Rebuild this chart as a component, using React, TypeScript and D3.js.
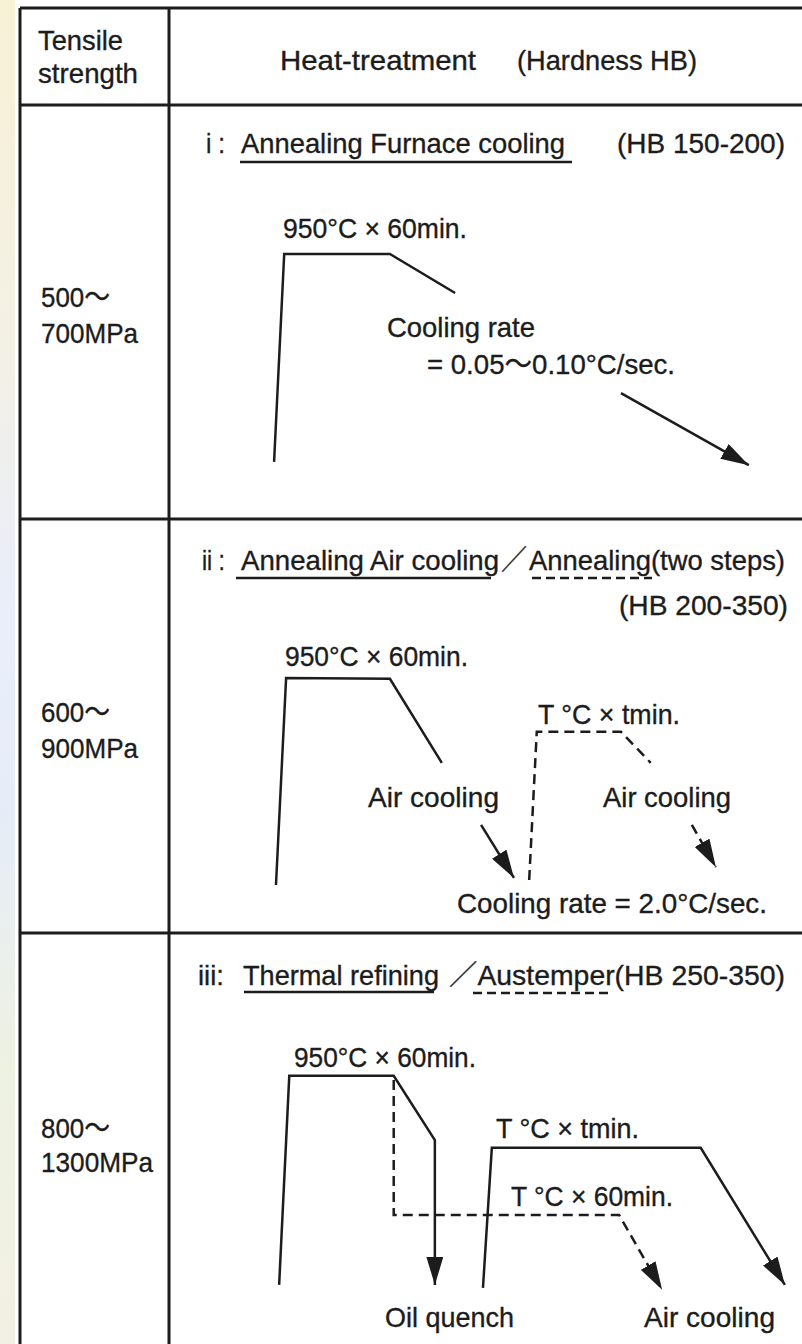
import React from "react";
import * as d3 from "d3";

const W = 802;
const H = 1344;

// ---- text content ----
const headerLeft = ["Tensile", "strength"];
const headerRight = ["Heat-treatment", "(Hardness HB)"];
const strengthLow = ["500～", "600～", "800～"];
const strengthHigh = ["700MPa", "900MPa", "1300MPa"];
const numerals = ["i :", "ii :", "iii:"];
const hardness = ["(HB 150-200)", "(HB 200-350)", "(HB 250-350)"];
const titleSolid = ["Annealing Furnace cooling", "Annealing Air cooling", "Thermal refining"];
const titleDashed = ["", "Annealing(two steps)", "Austemper"];
const panel1Labels = ["950°C × 60min.", "Cooling rate", "= 0.05～0.10°C/sec."];
const panel2Labels = ["950°C × 60min.", "T °C × tmin.", "Air cooling", "Air cooling", "Cooling rate = 2.0°C/sec."];
const panel3Labels = ["950°C × 60min.", "T °C × tmin.", "T °C × 60min.", "Oil quench", "Air cooling"];

// ---- schematic time / temperature profiles (time %, temperature % of panel) ----
type Profile = { dashed: boolean; arrow: boolean; pts: [number, number][] };
const profiles1: Profile[] = [
  { dashed: false, arrow: false, pts: [[16.6, 13.8], [18.2, 64.0], [34.9, 64.0], [45.2, 54.6]] },
  { dashed: false, arrow: true, pts: [[71.4, 30.4], [91.6, 13.0]] },
];
const profiles2: Profile[] = [
  { dashed: false, arrow: false, pts: [[16.9, 11.6], [18.5, 61.6], [34.9, 61.4], [43.1, 41.1]] },
  { dashed: true, arrow: false, pts: [[56.9, 12.8], [58.1, 48.6], [71.4, 48.6], [76.1, 41.1]] },
  { dashed: false, arrow: true, pts: [[49.3, 26.1], [54.5, 13.3]] },
  { dashed: true, arrow: true, pts: [[82.6, 26.1], [86.4, 15.9]] },
];
const profiles3: Profile[] = [
  { dashed: false, arrow: true, pts: [[17.4, 15.0], [19.0, 65.5], [35.5, 65.5], [42.0, 50.0], [42.0, 15.0]] },
  { dashed: true, arrow: true, pts: [[35.5, 64.5], [35.5, 31.9], [71.1, 31.9], [77.9, 13.8]] },
  { dashed: false, arrow: true, pts: [[49.6, 14.3], [51.0, 48.1], [84.0, 48.1], [97.3, 15.0]] },
];
const allProfiles = [profiles1, profiles2, profiles3];

// ---- layout ----
const LEFT = 20;
const DIV = 169;
const TOP = 8;
const rowTops = [105, 519, 933];
const PANEL_H = 414;
const FS = 28;
const INK = "#1c1c1c";

const strengthLayout = [
  [307, 343],
  [722, 758],
  [1138, 1172],
];
const strengthWidths = [69, 97, 69, 97, 69, 112];
type TL = {
  base: number;
  num: number[];
  solid: number[];
  slash: number[] | null;
  dash: number[] | null;
  hb: number[] | null;
  joined: boolean;
  ul: number[];
  dl: number[] | null;
};
const titleLayout: TL[] = [
  { base: 153, num: [206, 19], solid: [241, 324], slash: null, dash: null, hb: [617, 168, 153], joined: false, ul: [240, 572, 162], dl: null },
  { base: 570, num: [202, 23], solid: [241, 258], slash: [501, 26], dash: [529, 256], hb: [619, 169, 615], joined: false, ul: [236, 491, 578], dl: [532, 652, 578] },
  { base: 985, num: [198, 26], solid: [243, 196], slash: null, dash: [449, 336], hb: null, joined: true, ul: [244, 434, 992], dl: [473, 609, 993] },
];
const panelLabelLayout = [
  [[283, 238, 184], [387, 337, 148], [427, 374, 248]],
  [[285, 666, 183], [538, 724, 142], [368, 807, 131], [603, 807, 128], [457, 913, 310]],
  [[294, 1067, 182], [496, 1138, 143], [511, 1206, 162], [385, 1327, 129], [644, 1327, 131]],
];
const panelLabels = [panel1Labels, panel2Labels, panel3Labels];

const x = d3.scaleLinear().domain([0, 100]).range([DIV, W]);

function T({ x, y, w, s, size = FS }: { x: number; y: number; w: number; s: string; size?: number }) {
  return (
    <text
      x={x}
      y={y}
      fontSize={size}
      fill={INK}
      stroke={INK}
      strokeWidth={0.35}
      textLength={w}
      lengthAdjust="spacingAndGlyphs"
      fontFamily="'Liberation Sans', Arial, 'Noto Sans CJK JP', sans-serif"
    >
      {s}
    </text>
  );
}

export default function App() {
  const line = d3.line<[number, number]>();
  return (
    <svg
      width={W}
      height={H}
      viewBox={`0 0 ${W} ${H}`}
      style={{ position: "absolute", left: 0, top: 0, background: "#fff" }}
    >
      <defs>
        <marker
          id="ah"
          viewBox="0 0 10 10"
          refX={10}
          refY={5}
          markerWidth={28}
          markerHeight={17}
          markerUnits="userSpaceOnUse"
          orient="auto"
          preserveAspectRatio="none"
        >
          <path d="M0,0 L10,5 L0,10 Z" fill={INK} />
        </marker>
        <linearGradient id="strip" x1="0" y1="0" x2="0" y2="1">
          <stop offset="0" stopColor="#f7f1d6" />
          <stop offset="0.25" stopColor="#f4f0e4" />
          <stop offset="0.45" stopColor="#e9eefa" />
          <stop offset="0.6" stopColor="#e6ecf8" />
          <stop offset="0.8" stopColor="#eef2e2" />
          <stop offset="1" stopColor="#f2f0e4" />
        </linearGradient>
      </defs>
      <rect x={0} y={0} width={W} height={H} fill="#fff" />
      <rect x={0} y={0} width={15} height={H} fill="url(#strip)" />

      {/* table grid */}
      <g stroke={INK} strokeWidth={3} fill="none">
        <line x1={LEFT} y1={TOP} x2={W} y2={TOP} />
        {rowTops.map((t) => (
          <line key={t} x1={LEFT} y1={t} x2={W} y2={t} />
        ))}
        <line x1={LEFT} y1={TOP} x2={LEFT} y2={H} />
        <line x1={DIV} y1={TOP} x2={DIV} y2={H} />
      </g>

      {/* header */}
      <T x={38} y={50} w={85} s={headerLeft[0]} />
      <T x={38} y={83} w={100} s={headerLeft[1]} />
      <T x={280} y={70} w={196} s={headerRight[0]} />
      <T x={517} y={70} w={180} s={headerRight[1]} />

      {rowTops.map((top, i) => {
        const y = d3.scaleLinear().domain([0, 100]).range([top + PANEL_H, top]);
        const tl = titleLayout[i];
        const dashText = tl.joined ? "／" + titleDashed[i] + hardness[i] : titleDashed[i];
        return (
          <g key={i}>
            <T x={41} y={strengthLayout[i][0]} w={strengthWidths[i * 2]} s={strengthLow[i]} />
            <T x={41} y={strengthLayout[i][1]} w={strengthWidths[i * 2 + 1]} s={strengthHigh[i]} />

            <T x={tl.num[0]} y={tl.base} w={tl.num[1]} s={numerals[i]} />
            <T x={tl.solid[0]} y={tl.base} w={tl.solid[1]} s={titleSolid[i]} />
            {tl.slash && <T x={tl.slash[0]} y={tl.base} w={tl.slash[1]} s="／" />}
            {tl.dash && <T x={tl.dash[0]} y={tl.base} w={tl.dash[1]} s={dashText} />}
            {tl.hb && <T x={tl.hb[0]} y={tl.hb[2]} w={tl.hb[1]} s={hardness[i]} />}
            <line x1={tl.ul[0]} y1={tl.ul[2]} x2={tl.ul[1]} y2={tl.ul[2]} stroke={INK} strokeWidth={2.6} />
            {tl.dl && (
              <line
                x1={tl.dl[0]}
                y1={tl.dl[2]}
                x2={tl.dl[1]}
                y2={tl.dl[2]}
                stroke={INK}
                strokeWidth={2.6}
                strokeDasharray="9,5"
              />
            )}

            {panelLabels[i].map((s, j) => (
              <T key={j} x={panelLabelLayout[i][j][0]} y={panelLabelLayout[i][j][1]} w={panelLabelLayout[i][j][2]} s={s} />
            ))}

            {allProfiles[i].map((p, k) => (
              <path
                key={k}
                d={line(p.pts.map(([t, v]) => [x(t), y(v)] as [number, number])) || ""}
                fill="none"
                stroke={INK}
                strokeWidth={2.5}
                strokeDasharray={p.dashed ? "10,6" : undefined}
                markerEnd={p.arrow ? "url(#ah)" : undefined}
              />
            ))}
          </g>
        );
      })}
    </svg>
  );
}
